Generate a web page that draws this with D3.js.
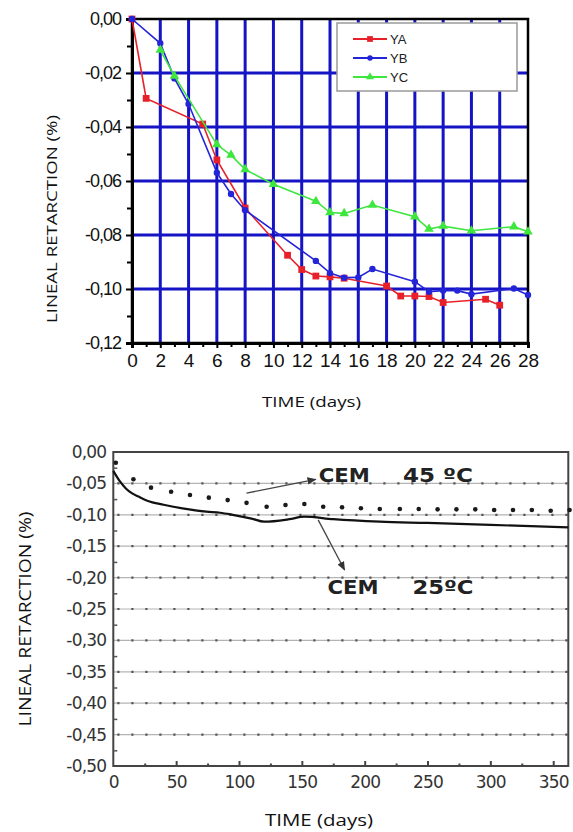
<!DOCTYPE html>
<html>
<head>
<meta charset="utf-8">
<script src="https://cdn.jsdelivr.net/npm/d3@7/dist/d3.min.js"></script>
<style>
  html, body { margin: 0; padding: 0; background: #fff; }
  svg { display: block; }
</style>
</head>
<body>
<script>
// ---------- DATA: top chart (early age) ----------
const topXTicks = [0, 2, 4, 6, 8, 10, 12, 14, 16, 18, 20, 22, 24, 26, 28];
const topYTicks = [0, -0.02, -0.04, -0.06, -0.08, -0.10, -0.12];
const seriesNames = ["YA", "YB", "YC"];

const yaDays   = [0, 1, 5, 6, 8, 11, 12, 13, 14, 15, 18, 19, 20, 21, 22, 25, 26];
const yaValues = [0, -0.0294, -0.0389, -0.0522, -0.0700, -0.0875, -0.0928, -0.0952, -0.0955, -0.0960, -0.0989, -0.1026, -0.1026, -0.1028, -0.1050, -0.1038, -0.1060];

const ybDays   = [0, 2, 3, 4, 6, 7, 8, 13, 14, 15, 16, 17, 20, 21, 22, 23, 24, 27, 28];
const ybValues = [0, -0.0090, -0.0220, -0.0315, -0.0569, -0.0648, -0.0708, -0.0896, -0.0941, -0.0958, -0.0957, -0.0926, -0.0973, -0.1010, -0.1006, -0.1006, -0.1019, -0.0998, -0.1022];

const ycDays   = [2, 3, 6, 7, 8, 10, 13, 14, 15, 17, 20, 21, 22, 24, 27, 28];
const ycValues = [-0.0115, -0.0211, -0.0465, -0.0504, -0.0557, -0.0612, -0.0675, -0.0717, -0.0720, -0.0689, -0.0732, -0.0778, -0.0767, -0.0784, -0.0769, -0.0788];

// ---------- DATA: bottom chart (one year) ----------
const botXTicks = [0, 50, 100, 150, 200, 250, 300, 350];
const botYTicks = [0, -0.05, -0.10, -0.15, -0.20, -0.25, -0.30, -0.35, -0.40, -0.45, -0.50];

const cem25Days   = [0, 5, 10, 15, 20, 27, 40, 55, 74, 85, 95, 110, 120, 140, 152, 175, 212, 250, 300, 362];
const cem25Values = [-0.030, -0.046, -0.058, -0.066, -0.071, -0.0775, -0.084, -0.0897, -0.095, -0.0967, -0.100, -0.106, -0.111, -0.107, -0.103, -0.107, -0.111, -0.113, -0.116, -0.120];

const cem45Days   = [2, 16, 30, 46, 61, 76, 91, 106, 122, 137, 152, 167, 182, 197, 212, 228, 243, 258, 273, 288, 303, 318, 333, 348, 363];
const cem45Values = [-0.017, -0.0435, -0.0568, -0.0632, -0.0685, -0.0727, -0.0766, -0.081, -0.0873, -0.0844, -0.0828, -0.0871, -0.088, -0.0896, -0.0908, -0.0908, -0.0908, -0.0913, -0.0913, -0.0913, -0.0924, -0.0924, -0.0924, -0.0935, -0.0924];

// annotations in data coordinates (day, value)
const annotLabels = ["CEM", "45 ºC", "CEM", "25ºC"];

// ---------- SETUP ----------
const W = 573, H = 832;
const svg = d3.select("body").append("svg").attr("width", W).attr("height", H);
svg.append("rect").attr("width", W).attr("height", H).attr("fill", "#fff");

const fmt = v => (v < -1e-9 ? "-" : "") + Math.abs(v).toFixed(2).replace(".", ",");

// ================= TOP CHART =================
const xT = d3.scaleLinear().domain([0, 28]).range([132, 528]);
const yT = d3.scaleLinear().domain([-0.12, 0]).range([343, 19]);
const gT = svg.append("g");
const gridBlue = "#1414c4";

// grid
gT.append("g").selectAll("line").data(topXTicks.filter(d => d > 0 && d < 28)).join("line")
  .attr("x1", d => xT(d)).attr("x2", d => xT(d)).attr("y1", yT(0)).attr("y2", yT(-0.12))
  .attr("stroke", gridBlue).attr("stroke-width", 3);
gT.append("g").selectAll("line").data(topYTicks.filter(v => v < 0 && v > -0.12)).join("line")
  .attr("x1", xT(0)).attr("x2", xT(28)).attr("y1", d => yT(d)).attr("y2", d => yT(d))
  .attr("stroke", gridBlue).attr("stroke-width", 3);

// frame
gT.append("rect").attr("x", xT(0)).attr("y", yT(0)).attr("width", xT(28) - xT(0)).attr("height", yT(-0.12) - yT(0))
  .attr("fill", "none").attr("stroke", "#000").attr("stroke-width", 2.5);

// y axis
const yAxT = gT.append("g").attr("transform", `translate(${xT(0)},0)`)
  .call(d3.axisLeft(yT).tickValues(topYTicks).tickFormat(fmt).tickSize(6).tickPadding(5));
gT.append("g").attr("transform", `translate(${xT(0)},0)`)
  .call(d3.axisLeft(yT).tickValues(d3.range(-0.11, 0, 0.02)).tickFormat("").tickSize(5))
  .call(g => g.select(".domain").remove());
yAxT.select(".domain").attr("stroke-width", 3).attr("stroke", "#000");
yAxT.selectAll("text").attr("font-family", "Liberation Sans, Arial, sans-serif").attr("font-size", 18)
  .attr("letter-spacing", -1).attr("fill", "#111");
gT.selectAll(".tick line").attr("stroke", "#000").attr("stroke-width", 2);

// x axis
const xAxT = gT.append("g").attr("transform", `translate(0,${yT(-0.12)})`)
  .call(d3.axisBottom(xT).tickValues(topXTicks).tickFormat(d3.format("d")).tickSize(5).tickPadding(6));
gT.append("g").attr("transform", `translate(0,${yT(-0.12)})`)
  .call(d3.axisBottom(xT).tickValues(d3.range(1, 28, 2)).tickFormat("").tickSize(4))
  .call(g => g.select(".domain").remove())
  .selectAll("line").attr("stroke", "#000").attr("stroke-width", 2);
xAxT.select(".domain").attr("stroke-width", 3).attr("stroke", "#000");
xAxT.selectAll(".tick line").attr("stroke", "#000").attr("stroke-width", 2);
xAxT.selectAll("text").attr("font-family", "Liberation Sans, Arial, sans-serif").attr("font-size", 19).attr("fill", "#111");

// axis titles
gT.append("text").attr("x", 311.5).attr("y", 407).attr("text-anchor", "middle")
  .attr("font-family", "Open Sans, sans-serif").attr("font-size", 15).attr("fill", "#111")
  .attr("textLength", 99).attr("lengthAdjust", "spacingAndGlyphs").text("TIME (days)");
gT.append("text").attr("transform", "translate(57,219) rotate(-90)").attr("text-anchor", "middle")
  .attr("font-family", "Open Sans, sans-serif").attr("font-size", 15).attr("fill", "#111")
  .attr("textLength", 208).attr("lengthAdjust", "spacingAndGlyphs").text("LINEAL RETARCTION (%)");

// series
const colors = { YA: "#e8202a", YB: "#2424d8", YC: "#3ee63e" };
const topSeries = [
  { name: "YA", days: yaDays, values: yaValues, shape: "square" },
  { name: "YB", days: ybDays, values: ybValues, shape: "circle" },
  { name: "YC", days: ycDays, values: ycValues, shape: "triangle" }
];
const lineT = d3.line().x(d => xT(d[0])).y(d => yT(d[1]));
function marker(sel, shape, color, scaleFactor) {
  const s = scaleFactor || 1;
  if (shape === "square") return sel.append("path").attr("d", d3.symbol(d3.symbolSquare, 46 * s * s)()).attr("fill", color);
  if (shape === "circle") return sel.append("path").attr("d", d3.symbol(d3.symbolCircle, 32 * s * s)()).attr("fill", color);
  return sel.append("path").attr("d", d3.symbol(d3.symbolTriangle, 40 * s * s)()).attr("fill", color);
}
topSeries.forEach(s => {
  const pts = s.days.map((d, i) => [d, s.values[i]]);
  gT.append("path").datum(pts).attr("d", lineT).attr("fill", "none")
    .attr("stroke", colors[s.name]).attr("stroke-width", 1.6);
  gT.append("g").selectAll("g").data(pts).join("g")
    .attr("transform", d => `translate(${xT(d[0])},${yT(d[1])})`)
    .each(function () { marker(d3.select(this), s.shape, colors[s.name]); });
});

// legend
const leg = gT.append("g").attr("transform", "translate(337,23)");
leg.append("rect").attr("width", 180).attr("height", 68).attr("fill", "#fff")
  .attr("stroke", "#9a9a9a").attr("stroke-width", 1.5);
topSeries.forEach((s, i) => {
  const row = leg.append("g").attr("transform", `translate(16,${16 + i * 19})`);
  row.append("line").attr("x1", 0).attr("x2", 34).attr("stroke", colors[s.name]).attr("stroke-width", 2);
  marker(row.append("g").attr("transform", "translate(17,0)"), s.shape, colors[s.name], 0.85);
  row.append("text").attr("x", 37).attr("y", 5).attr("font-family", "Liberation Sans, Arial, sans-serif")
    .attr("font-size", 13).attr("fill", "#222").text(s.name);
});

// ================= BOTTOM CHART =================
const xB = d3.scaleLinear().domain([0, 362]).range([113.3, 568.3]);
const yB = d3.scaleLinear().domain([-0.5, 0]).range([766, 452]);
const gB = svg.append("g");
const gray = "#3a3a3a";

// dotted gridlines
const gridVals = botYTicks.filter(v => v < 0 && v > -0.5);
gB.append("g").selectAll("line").data(gridVals).join("line")
  .attr("x1", xB(0)).attr("x2", xB(362)).attr("y1", d => yB(d)).attr("y2", d => yB(d))
  .attr("stroke", "#b4b4b4").attr("stroke-width", 1.2);
gB.append("g").selectAll("line").data(gridVals).join("line")
  .attr("x1", xB(0) + 4).attr("x2", xB(362)).attr("y1", d => yB(d)).attr("y2", d => yB(d))
  .attr("stroke", "#555").attr("stroke-width", 2.2).attr("stroke-dasharray", "2.2,11.8");

// frame
gB.append("rect").attr("x", xB(0)).attr("y", yB(0)).attr("width", xB(362) - xB(0)).attr("height", yB(-0.5) - yB(0))
  .attr("fill", "none").attr("stroke", "#444").attr("stroke-width", 2);

// y axis (labels + inward ticks)
const yAxB = gB.append("g").attr("transform", `translate(${xB(0)},0)`)
  .call(d3.axisLeft(yB).tickValues(botYTicks).tickFormat(fmt).tickSize(0).tickPadding(7));
yAxB.select(".domain").remove();
yAxB.selectAll("text").attr("font-family", "DejaVu Sans, Verdana, sans-serif").attr("font-size", 17)
  .attr("letter-spacing", -0.8).attr("fill", "#333");
gB.append("g").attr("transform", `translate(${xB(0)},0)`)
  .call(d3.axisRight(yB).tickValues(d3.range(-0.475, 0, 0.05)).tickFormat("").tickSize(4))
  .call(g => g.select(".domain").remove())
  .selectAll("line").attr("stroke", "#555").attr("stroke-width", 1.5);

// x axis
const xAxB = gB.append("g").attr("transform", `translate(0,${yB(-0.5)})`)
  .call(d3.axisBottom(xB).tickValues(botXTicks).tickFormat(d3.format("d")).tickSize(0).tickPadding(10));
xAxB.select(".domain").remove();
xAxB.selectAll("text").attr("font-family", "DejaVu Sans, Verdana, sans-serif").attr("font-size", 17)
  .attr("letter-spacing", -0.8).attr("fill", "#333");
gB.append("g").attr("transform", `translate(0,${yB(-0.5)})`)
  .call(d3.axisTop(xB).tickValues(botXTicks.filter(d => d > 0)).tickFormat("").tickSize(5))
  .call(g => g.select(".domain").remove())
  .selectAll("line").attr("stroke", "#444").attr("stroke-width", 2);
gB.append("g").attr("transform", `translate(0,${yB(-0.5)})`)
  .call(d3.axisTop(xB).tickValues(d3.range(25, 362, 50)).tickFormat("").tickSize(2.5))
  .call(g => g.select(".domain").remove())
  .selectAll("line").attr("stroke", "#444").attr("stroke-width", 2);

// titles
gB.append("text").attr("x", 319).attr("y", 826).attr("text-anchor", "middle")
  .attr("font-family", "Open Sans, sans-serif").attr("font-size", 16).attr("fill", "#111")
  .attr("textLength", 108).attr("lengthAdjust", "spacingAndGlyphs").text("TIME (days)");
gB.append("text").attr("transform", "translate(31,619) rotate(-90)").attr("text-anchor", "middle")
  .attr("font-family", "Open Sans, sans-serif").attr("font-size", 16).attr("fill", "#111")
  .attr("textLength", 215).attr("lengthAdjust", "spacingAndGlyphs").text("LINEAL RETARCTION (%)");

// 25 ºC solid line
const pts25 = cem25Days.map((d, i) => [d, cem25Values[i]]);
gB.append("path").datum(pts25)
  .attr("d", d3.line().x(d => xB(d[0])).y(d => yB(d[1])).curve(d3.curveMonotoneX))
  .attr("fill", "none").attr("stroke", "#111").attr("stroke-width", 2.2);

// 45 ºC dotted series
const pts45 = cem45Days.map((d, i) => [d, cem45Values[i]]);
gB.append("g").selectAll("circle").data(pts45).join("circle")
  .attr("cx", d => xB(d[0])).attr("cy", d => yB(d[1])).attr("r", 2.3).attr("fill", "#1a1a1a");

// annotations
const defs = svg.append("defs");
defs.append("marker").attr("id", "arr").attr("viewBox", "0 0 10 10").attr("refX", 9).attr("refY", 5)
  .attr("markerWidth", 7).attr("markerHeight", 7).attr("orient", "auto-start-reverse")
  .append("path").attr("d", "M0,1 L10,5 L0,9 Z").attr("fill", "#333");

const arrows = [
  { from: [106, -0.0655], to: [161, -0.0435] },
  { from: [163, -0.108], to: [184, -0.188] }
];
gB.append("g").selectAll("line").data(arrows).join("line")
  .attr("x1", d => xB(d.from[0])).attr("y1", d => yB(d.from[1]))
  .attr("x2", d => xB(d.to[0])).attr("y2", d => yB(d.to[1]))
  .attr("stroke", "#444").attr("stroke-width", 1.3).attr("marker-end", "url(#arr)");

const annots = [
  { day: 163.5, val: -0.048, w: 51 },
  { day: 230.5, val: -0.048, w: 70 },
  { day: 170.5, val: -0.2265, w: 51 },
  { day: 238, val: -0.2265, w: 61 }
];
gB.append("g").selectAll("text").data(annots).join("text")
  .attr("x", d => xB(d.day)).attr("y", d => yB(d.val))
  .attr("font-family", "DejaVu Sans, Verdana, sans-serif").attr("font-weight", "bold")
  .attr("font-size", 19).attr("fill", "#222")
  .attr("textLength", d => d.w).attr("lengthAdjust", "spacingAndGlyphs")
  .text((d, i) => annotLabels[i]);
</script>
</body>
</html>
